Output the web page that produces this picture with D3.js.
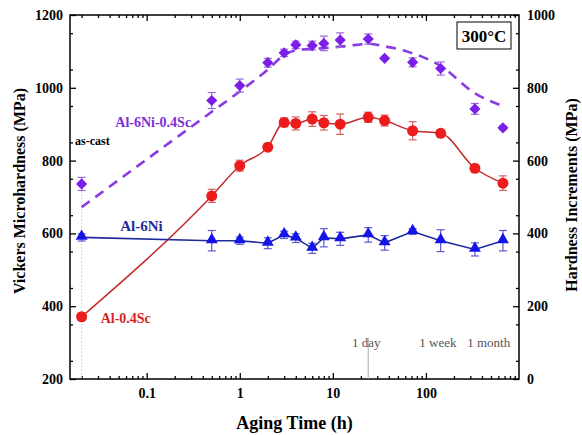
<!DOCTYPE html>
<html>
<head>
<meta charset="utf-8">
<script src="https://cdn.jsdelivr.net/npm/d3@7"></script>
<style>
  body { margin: 0; background: #fff; }
  svg text { font-family: "Liberation Serif", "Times New Roman", serif; }
</style>
</head>
<body>
<svg id="chart" width="582" height="435"></svg>
<script>
// temps de vieillissement (h) et duretés mesurées (MPa)
const agingTime = [0.02, 0.5, 1, 2, 3, 4, 6, 8, 12, 24, 36, 72, 144, 336, 672];
const hvAl6Ni04Sc = [736, 965, 1006, 1069, 1096, 1118, 1116, 1122, 1131, 1134, 1081, 1070, 1053, 942, 890];
const errAl6Ni04Sc = [18, 22, 18, 12, 10, 10, 12, 20, 20, 14, 0, 12, 18, 15, 5];
const hvAl04Sc = [371, 703, 786, 837, 905, 902, 914, 904, 900, 919, 910, 882, 875, 779, 738];
const errAl04Sc = [10, 18, 15, 10, 12, 18, 20, 20, 28, 14, 15, 25, 8, 8, 20];
const hvAl6Ni = [589, 580, 580, 573, 596, 587, 559, 588, 585, 596, 574, 605, 580, 556, 580];
const errAl6Ni = [10, 28, 10, 15, 10, 12, 14, 25, 18, 20, 20, 8, 30, 18, 28];
// courbe pointillée (somme Al-6Ni + incréments Al-0.4Sc)
const fitTime = [0.02, 0.5, 1, 2, 3, 4, 6, 8, 12, 18, 24, 36, 60, 144, 336, 672];
const fitAl6Ni04Sc = [672, 934, 990, 1050, 1090, 1103, 1107, 1109, 1113, 1118, 1121, 1114, 1101, 1060, 985, 950];

const xMajor = [0.1, 1, 10, 100];
const yLeftTicks = [200, 400, 600, 800, 1000, 1200];
const yRightTicks = [0, 200, 400, 600, 800, 1000];

var marge = {haut: 15, droite: 63, bas: 56, gauche: 70};
var largeur = 582, hauteur = 435;

const svg = d3.select('#chart');

const x = d3.scaleLog().domain([0.015, 1000]).range([marge.gauche, largeur - marge.droite]);
const yL = d3.scaleLinear().domain([200, 1200]).range([hauteur - marge.bas, marge.haut]);
const yR = d3.scaleLinear().domain([0, 1000]).range([hauteur - marge.bas, marge.haut]);

// ticks mineurs en log
let xMinor = [];
for (let e = -2; e <= 2; e++) {
    for (let m = 2; m <= 9; m++) {
        let v = m * Math.pow(10, e);
        if (v >= 0.015 && v <= 1000) xMinor.push(v);
    }
}
const yLeftMinor = d3.range(250, 1200, 100);
const yRightMinor = d3.range(50, 1000, 100);

const x0 = marge.gauche, x1 = largeur - marge.droite;
const y0 = hauteur - marge.bas, y1 = marge.haut;

function styleAxis(g) {
    g.attr('font-family', null);
    g.select('.domain').remove();
    g.selectAll('line').attr('stroke', '#000').attr('stroke-width', 1.3);
    g.selectAll('text').attr('font-size', 14).attr('font-weight', 'bold').attr('fill', '#000');
}

// axe bas
svg.append('g').attr('transform', `translate(0,${y0})`)
    .call(d3.axisBottom(x).tickValues(xMajor).tickFormat(d => d === 0.1 ? '0.1' : d3.format('d')(d))
        .tickSizeInner(-6).tickSizeOuter(0).tickPadding(9))
    .call(styleAxis);
svg.append('g').attr('transform', `translate(0,${y0})`)
    .call(d3.axisBottom(x).tickValues(xMinor).tickFormat('').tickSizeInner(-3).tickSizeOuter(0))
    .call(styleAxis);
// axe haut
svg.append('g').attr('transform', `translate(0,${y1})`)
    .call(d3.axisTop(x).tickValues(xMajor).tickFormat('').tickSizeInner(-6).tickSizeOuter(0))
    .call(styleAxis);
svg.append('g').attr('transform', `translate(0,${y1})`)
    .call(d3.axisTop(x).tickValues(xMinor).tickFormat('').tickSizeInner(-3).tickSizeOuter(0))
    .call(styleAxis);
// axe gauche
svg.append('g').attr('transform', `translate(${x0},0)`)
    .call(d3.axisLeft(yL).tickValues(yLeftTicks).tickFormat(d3.format('d'))
        .tickSizeInner(-6).tickSizeOuter(0).tickPadding(7))
    .call(styleAxis);
svg.append('g').attr('transform', `translate(${x0},0)`)
    .call(d3.axisLeft(yL).tickValues(yLeftMinor).tickFormat('').tickSizeInner(-3).tickSizeOuter(0))
    .call(styleAxis);
// axe droit
svg.append('g').attr('transform', `translate(${x1},0)`)
    .call(d3.axisRight(yR).tickValues(yRightTicks).tickFormat(d3.format('d'))
        .tickSizeInner(-6).tickSizeOuter(0).tickPadding(8))
    .call(styleAxis);
svg.append('g').attr('transform', `translate(${x1},0)`)
    .call(d3.axisRight(yR).tickValues(yRightMinor).tickFormat('').tickSizeInner(-3).tickSizeOuter(0))
    .call(styleAxis);

// cadre
svg.append('rect').attr('x', x0).attr('y', y1).attr('width', x1 - x0).attr('height', y0 - y1)
    .attr('fill', 'none').attr('stroke', '#000').attr('stroke-width', 1.5);

// ligne pointillée as-cast
svg.append('line')
    .attr('x1', x(agingTime[0])).attr('x2', x(agingTime[0]))
    .attr('y1', yL(hvAl6Ni04Sc[0])).attr('y2', y0)
    .attr('stroke', '#f2b8c0').attr('stroke-width', 1).attr('stroke-dasharray', '1.5,2');

// repère 1 jour
svg.append('line')
    .attr('x1', x(24)).attr('x2', x(24)).attr('y1', yR(113)).attr('y2', y0)
    .attr('stroke', '#aaa').attr('stroke-width', 1);
[[24, -2, '1 day'], [168, -9, '1 week'], [720, -17, '1 month']].forEach(t => {
    svg.append('text').attr('x', x(t[0]) + t[1]).attr('y', yR(88)).attr('text-anchor', 'middle')
        .attr('font-size', 13).attr('fill', '#555').text(t[2]);
});

// courbe pointillée Al-6Ni-0.4Sc
const ligneFit = d3.line().x((d, i) => x(fitTime[i])).y(d => yL(d)).curve(d3.curveMonotoneX);
svg.append('path').datum(fitAl6Ni04Sc).attr('d', ligneFit)
    .attr('fill', 'none').attr('stroke', '#8a3be0').attr('stroke-width', 2.6)
    .attr('stroke-dasharray', '10,7');

// courbes
const ligneRouge = d3.line().x((d, i) => x(agingTime[i])).y(d => yL(d)).curve(d3.curveMonotoneX);
svg.append('path').datum(hvAl04Sc).attr('d', ligneRouge)
    .attr('fill', 'none').attr('stroke', '#c42a2a').attr('stroke-width', 1.5);
const ligneBleue = d3.line().x((d, i) => x(agingTime[i])).y(d => yL(d));
svg.append('path').datum(hvAl6Ni).attr('d', ligneBleue)
    .attr('fill', 'none').attr('stroke', '#1f2a9c').attr('stroke-width', 1.6);

// barres d'erreur
function barresErreur(valeurs, erreurs, couleur) {
    let g = svg.append('g').attr('stroke', couleur).attr('stroke-width', 1.2);
    valeurs.forEach((v, i) => {
        if (!erreurs[i]) return;
        let cx = x(agingTime[i]);
        g.append('line').attr('x1', cx).attr('x2', cx).attr('y1', yL(v - erreurs[i])).attr('y2', yL(v + erreurs[i]));
        g.append('line').attr('x1', cx - 4).attr('x2', cx + 4).attr('y1', yL(v - erreurs[i])).attr('y2', yL(v - erreurs[i]));
        g.append('line').attr('x1', cx - 4).attr('x2', cx + 4).attr('y1', yL(v + erreurs[i])).attr('y2', yL(v + erreurs[i]));
    });
}
barresErreur(hvAl6Ni04Sc, errAl6Ni04Sc, '#9a6ad8');
barresErreur(hvAl04Sc, errAl04Sc, '#d86060');
barresErreur(hvAl6Ni, errAl6Ni, '#5a5ad0');

// symboles
svg.append('g').selectAll('path').data(hvAl6Ni04Sc).enter().append('path')
    .attr('d', d3.symbol().type(d3.symbolSquare).size(62))
    .attr('transform', (d, i) => `translate(${x(agingTime[i])},${yL(d)}) rotate(45)`)
    .attr('fill', '#7a1ee8');
svg.append('g').selectAll('circle').data(hvAl04Sc).enter().append('circle')
    .attr('cx', (d, i) => x(agingTime[i])).attr('cy', d => yL(d)).attr('r', 5.5)
    .attr('fill', '#ec1c1c');
svg.append('g').selectAll('path').data(hvAl6Ni).enter().append('path')
    .attr('d', d3.symbol().type(d3.symbolTriangle).size(62))
    .attr('transform', (d, i) => `translate(${x(agingTime[i])},${yL(d) - 1})`)
    .attr('fill', '#1414e6');

// étiquettes des séries
svg.append('text').attr('x', x(0.3)).attr('y', yL(892)).attr('text-anchor', 'end')
    .attr('font-size', 14).attr('font-weight', 'bold').attr('fill', '#7b2fd6').text('Al-6Ni-0.4Sc');
svg.append('text').attr('x', x0 + 5).attr('y', yL(843))
    .attr('font-size', 12).attr('font-weight', 'bold').attr('fill', '#000').text('as-cast');
svg.append('text').attr('x', x(0.052)).attr('y', yL(607))
    .attr('font-size', 15).attr('font-weight', 'bold').attr('fill', '#1f2a9c').text('Al-6Ni');
svg.append('text').attr('x', x(0.032)).attr('y', yL(354))
    .attr('font-size', 14).attr('font-weight', 'bold').attr('fill', '#d42424').text('Al-0.4Sc');

// encadré température
const boite = svg.append('g');
boite.append('rect').attr('x', x1 - 62).attr('y', y1 + 7).attr('width', 54).attr('height', 27)
    .attr('fill', '#fff').attr('stroke', '#000').attr('stroke-width', 1);
boite.append('text').attr('x', x1 - 35).attr('y', y1 + 27).attr('text-anchor', 'middle')
    .attr('font-size', 17).attr('font-weight', 'bold').text('300°C');

// titres des axes
svg.append('text').attr('x', (x0 + x1) / 2).attr('y', 429).attr('text-anchor', 'middle')
    .attr('font-size', 18).attr('font-weight', 'bold').text('Aging Time (h)');
svg.append('text').attr('transform', `translate(25,191) rotate(-90)`).attr('text-anchor', 'middle')
    .attr('font-size', 16).attr('font-weight', 'bold').text('Vickers Microhardness (MPa)');
svg.append('text').attr('transform', `translate(577,195) rotate(-90)`).attr('text-anchor', 'middle')
    .attr('font-size', 16).attr('font-weight', 'bold').text('Hardness Increments (MPa)');
</script>
</body>
</html>
